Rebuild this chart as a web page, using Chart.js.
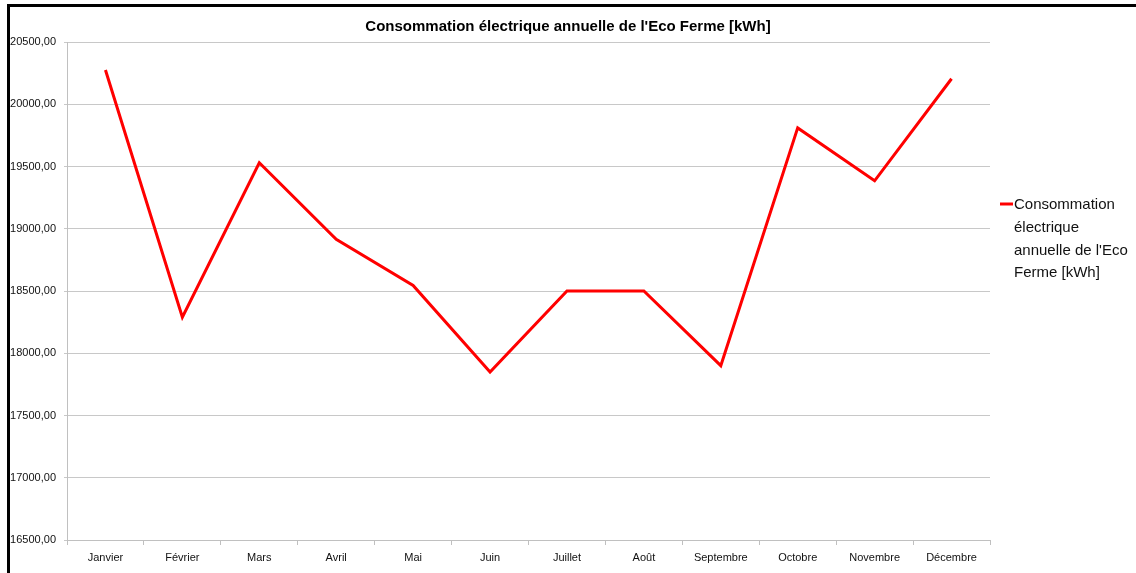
<!DOCTYPE html>
<html>
<head>
<meta charset="utf-8">
<script src="https://cdn.jsdelivr.net/npm/chart.js@4.4.1/dist/chart.umd.min.js"></script>
<style>
	body { margin: 0; background: #fff; }
	#wrap { position: relative; width: 1136px; height: 573px; overflow: hidden; }
	#frame { position: absolute; left: 7px; top: 4px; right: -5px; bottom: -5px; border-left: 3px solid #000; border-top: 3px solid #000; pointer-events: none; }
</style>
</head>
<body>
<div id="wrap">
	<canvas id="myChart" width="1136" height="573"></canvas>
	<div id="frame"></div>
</div>
<script>
// données
var mois = ['Janvier', 'Février', 'Mars', 'Avril', 'Mai', 'Juin', 'Juillet', 'Août', 'Septembre', 'Octobre', 'Novembre', 'Décembre'];
var conso = [20275, 18290, 19530, 18915, 18545, 17850, 18500, 18500, 17900, 19810, 19385, 20205];
var serie_nom = "Consommation électrique annuelle de l'Eco Ferme [kWh]";
var titre = "Consommation électrique annuelle de l'Eco Ferme [kWh]";
var y_min = 16500;
var y_max = 20500;
var y_pas = 500;

var police = "'Liberation Sans', Arial, sans-serif";

// légende à droite, texte sur plusieurs lignes
const legendeDroite = {
	id: 'legendeDroite',
	afterDraw(chart) {
		const ctx = chart.ctx;
		const ds = chart.data.datasets[0];
		ctx.save();
		ctx.font = '15px ' + police;
		const mots = ds.label.split(' ');
		var lignes = [];
		var cur = '';
		for (let i = 0; i < mots.length; i++) {
			const essai = cur ? cur + ' ' + mots[i] : mots[i];
			if (ctx.measureText(essai).width > 120 && cur) {
				lignes.push(cur);
				cur = mots[i];
			} else {
				cur = essai;
			}
		}
		lignes.push(cur);

		const x0 = chart.chartArea.right + 10;
		const y0 = 205;
		ctx.strokeStyle = ds.borderColor;
		ctx.lineWidth = 3;
		ctx.beginPath();
		ctx.moveTo(x0, y0 - 1);
		ctx.lineTo(x0 + 13, y0 - 1);
		ctx.stroke();

		ctx.fillStyle = '#111';
		ctx.textAlign = 'left';
		ctx.textBaseline = 'middle';
		for (let i = 0; i < lignes.length; i++) {
			ctx.fillText(lignes[i], x0 + 14, y0 + i * 22.7);
		}
		ctx.restore();
	}
};

const chartArea = document.getElementById('myChart').getContext('2d');
const myChart = new Chart(chartArea, {
	type: 'line',
	data: {
		labels: mois,
		datasets: [{
			label: serie_nom,
			data: conso,
			borderColor: '#ff0000',
			backgroundColor: '#ff0000',
			borderWidth: 3,
			pointRadius: 0,
			tension: 0,
			fill: false
		}]
	},
	options: {
		responsive: false,
		animation: false,
		layout: {
			padding: { left: 0, right: 0, top: 0, bottom: 0 }
		},
		plugins: {
			legend: { display: false },
			tooltip: { enabled: false },
			title: {
				display: true,
				text: titre,
				color: '#000',
				font: { family: police, size: 15, weight: 'bold' },
				padding: { top: 18, bottom: 6 }
			}
		},
		scales: {
			x: {
				offset: true,
				grid: {
					offset: true,
					drawOnChartArea: false,
					drawTicks: true,
					tickLength: 5,
					color: '#c0c0c0'
				},
				border: { color: '#c0c0c0' },
				ticks: {
					color: '#111',
					font: { family: police, size: 11 },
					padding: 6,
					maxRotation: 0,
					autoSkip: false
				},
				afterFit: function (s) { s.height = 33; }
			},
			y: {
				min: y_min,
				max: y_max,
				grid: {
					color: '#c8c8c8',
					tickLength: 3
				},
				border: { color: '#c0c0c0' },
				ticks: {
					stepSize: y_pas,
					color: '#111',
					font: { family: police, size: 11 },
					padding: 8,
					callback: function (v) { return v.toFixed(2).replace('.', ','); }
				},
				afterFit: function (s) { s.width = 67; }
			},
			// place réservée à la légende
			marge: {
				type: 'linear',
				position: 'right',
				display: true,
				grid: { display: false },
				border: { display: false },
				ticks: { display: false },
				afterFit: function (s) { s.width = 146; }
			}
		}
	},
	plugins: [legendeDroite]
});
</script>
</body>
</html>
